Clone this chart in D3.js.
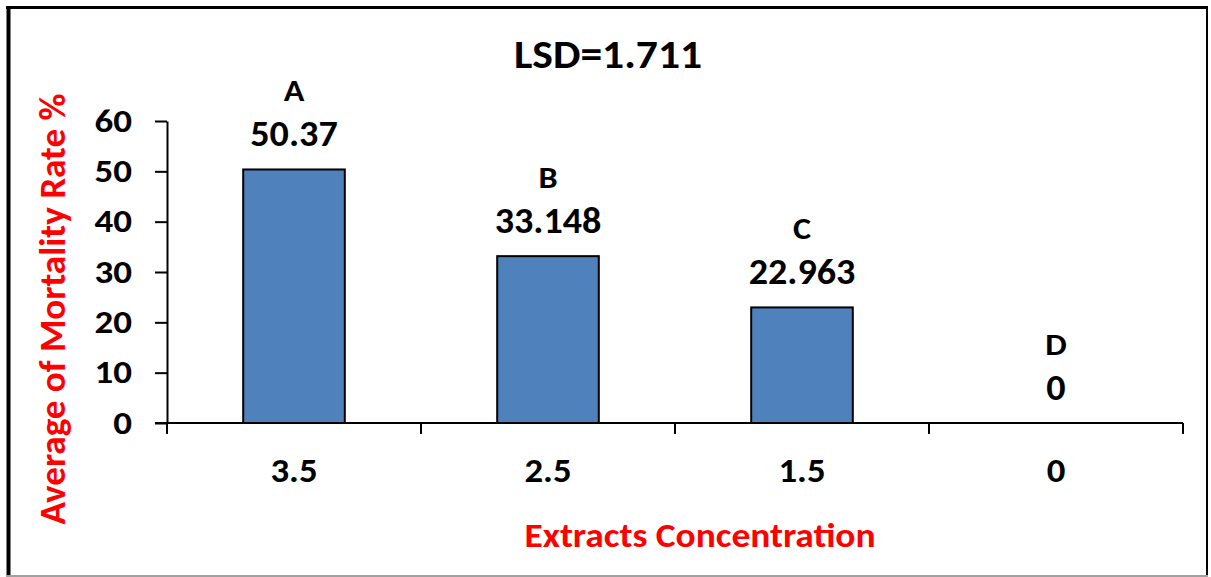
<!DOCTYPE html>
<html>
<head>
<meta charset="utf-8">
<script src="https://cdn.jsdelivr.net/npm/d3@7"></script>
<style>
  html, body { margin: 0; padding: 0; background: #fff; }
  svg { display: block; }
  text { font-family: "Carlito", "Calibri", "Lato", sans-serif; font-weight: bold; }
</style>
</head>
<body>
<svg id="chart" width="1211" height="577"></svg>
<script>
const categories = ["3.5", "2.5", "1.5", "0"];
const values = [50.37, 33.148, 22.963, 0];
const valueLabels = ["50.37", "33.148", "22.963", "0"];
const groupLetters = ["A", "B", "C", "D"];
const yTicks = [0, 10, 20, 30, 40, 50, 60];
const titleText = "LSD=1.711";
const xTitle = "Extracts Concentration";
const yTitle = "Average of Mortality Rate %";

const svg = d3.select("#chart");

// outer frame
svg.append("line").attr("x1", 8.5).attr("x2", 8.5).attr("y1", 6).attr("y2", 577).attr("stroke", "#000").attr("stroke-width", 4);
svg.append("line").attr("x1", 6).attr("x2", 1208).attr("y1", 7.5).attr("y2", 7.5).attr("stroke", "#000").attr("stroke-width", 3);
svg.append("line").attr("x1", 1207).attr("x2", 1207).attr("y1", 6).attr("y2", 577).attr("stroke", "#000").attr("stroke-width", 2);
svg.append("line").attr("x1", 6).attr("x2", 1208).attr("y1", 576).attr("y2", 576).attr("stroke", "#a0a0a0").attr("stroke-width", 2);

const x = d3.scaleBand().domain(categories).range([167, 1183]).paddingInner(0.6).paddingOuter(0.3);
const y = d3.scaleLinear().domain([0, 60]).range([423, 121]);
const cx = c => x(c) + x.bandwidth() / 2;

function label(g, px, py, txt, size, sx, anchor, fill, rot) {
  return g.append("text")
    .attr("transform", `translate(${px},${py})` + (rot ? ` rotate(${rot})` : "") + ` scale(${sx},1)`)
    .attr("text-anchor", anchor || "middle")
    .attr("font-size", size)
    .attr("fill", fill || "#000")
    .text(txt);
}

// bars
svg.selectAll("rect.bar").data(values).enter().append("rect")
  .attr("class", "bar")
  .attr("x", (d, i) => x(categories[i]))
  .attr("width", x.bandwidth())
  .attr("y", d => y(d))
  .attr("height", d => y(0) - y(d))
  .attr("fill", "#4F81BD")
  .attr("stroke", "#000")
  .attr("stroke-width", 2);

// y axis
const yAxis = d3.axisLeft(y).tickValues(yTicks).tickSize(12).tickSizeOuter(0).tickFormat("");
const gy = svg.append("g").attr("transform", "translate(167,0)").call(yAxis);
gy.select(".domain").attr("stroke", "#000").attr("stroke-width", 2);
gy.selectAll(".tick line").attr("stroke", "#000").attr("stroke-width", 2);
gy.selectAll(".tick text").remove();
gy.append("line").attr("x1", 0).attr("x2", 0).attr("y1", y(0)).attr("y2", y(0) + 11).attr("stroke", "#000").attr("stroke-width", 2);
yTicks.forEach(t => label(svg, 132, y(t) + 10.5, String(t), 33, 1.12, "end"));

// x axis
const step = x.step();
const bounds = categories.map(c => x(c) - step * 0.3).concat([x(categories[categories.length - 1]) + x.bandwidth() + step * 0.3]);
svg.append("line").attr("x1", 155).attr("x2", bounds[bounds.length - 1]).attr("y1", y(0)).attr("y2", y(0)).attr("stroke", "#000").attr("stroke-width", 2);
svg.selectAll("line.xtick").data(bounds.slice(1)).enter().append("line")
  .attr("class", "xtick")
  .attr("x1", d => d).attr("x2", d => d)
  .attr("y1", y(0)).attr("y2", y(0) + 11)
  .attr("stroke", "#000").attr("stroke-width", 2);
categories.forEach(c => label(svg, cx(c), 482, c, 35, 1.05));

// value labels and group letters
values.forEach((v, i) => {
  label(svg, cx(categories[i]), y(v) - 23, valueLabels[i], 37, 1.03);
  label(svg, cx(categories[i]), y(v) - 68, groupLetters[i], 31, 1.1);
});

// titles
label(svg, 608, 68, titleText, 40, 1.09);
label(svg, 700, 547, xTitle, 34, 1.1, "middle", "#FF0000");
label(svg, 65, 309, yTitle, 36, 1.03, "middle", "#FF0000", -90);
</script>
</body>
</html>
